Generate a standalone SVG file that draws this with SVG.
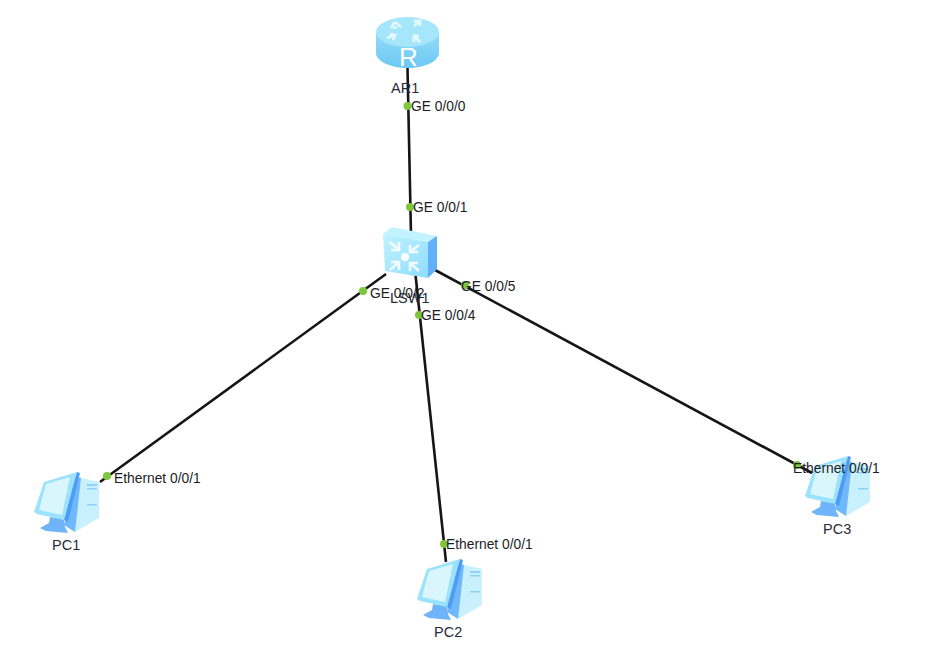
<svg xmlns="http://www.w3.org/2000/svg" width="936" height="653" viewBox="0 0 936 653">
<style>
text{font-family:"Liberation Sans",Arial,sans-serif;font-size:13.8px;fill:#1c1c24}
.nm{font-size:14.500px;fill:#2a2a3a}
.ln{stroke:#151515;stroke-width:2.6;fill:none}
.dot{fill:#7cc63c}
.ic{fill:none;stroke:#f2fcff;stroke-width:2.6}
</style>
<defs>
<linearGradient id="rt" x1="0" y1="0" x2="0" y2="1"><stop offset="0" stop-color="#93dcf8"/><stop offset="1" stop-color="#6cc8f4"/></linearGradient>
<linearGradient id="sw" x1="0" y1="0" x2="1" y2="1"><stop offset="0" stop-color="#c0f3ff"/><stop offset="1" stop-color="#8fdcfe"/></linearGradient>
<g id="pc">
<polygon points="44,5 65,10 65,46 41,60 36,30" fill="#c8f1fd"/>
<polygon points="41,5 47,6 41,60 30,53 33,40" fill="#6fb8fb"/>
<rect x="53" y="12" width="10" height="2" fill="#8fd0f5"/>
<rect x="53" y="16" width="10" height="1.500" fill="#8fd0f5"/>
<rect x="53" y="32" width="10" height="1.500" fill="#8fd0f5"/>
<polygon points="16,45 30,47 31,55 34,61 12,59 6,56 15,51" fill="#6fb4f8"/>
<polygon points="0,40 10,10 43,0 30,48 3,42" fill="#9be3fd"/>
<polygon points="43,0 46,1 34,50 30,48" fill="#4f9cf5"/>
<polygon points="12,12 36,5 28,43 5,38" fill="#daf6fd"/>
</g>
</defs>
<rect width="936" height="653" fill="#fff"/>
<g id="connectors">
<line class="ln" x1="407.500" y1="68" x2="411" y2="235"/>
<line class="ln" x1="386" y1="274" x2="100" y2="482"/>
<line class="ln" x1="415" y1="270" x2="446" y2="562"/>
<line class="ln" x1="435" y1="270" x2="812" y2="473"/>
</g>
<g id="AR1">
<path d="M376 33V53C376 61 390 68 407.500 68S439 61 439 53V33Z" fill="url(#rt)"/>
<ellipse cx="407.500" cy="32" rx="31.500" ry="15" fill="#a6e6fb"/>
<g class="ic" style="stroke:#e2f8fe;stroke-width:2.800">
<path d="M395 22l6 5M397 28l-5-1 2-5"/>
<path d="M420 21l-6 5M414 21h6v5"/>
<path d="M387 38l8-3M393 40l2-5-5-1"/>
<path d="M420 42l-6-6M419 36h-5v6"/>
</g>
<text x="408.500" y="66" text-anchor="middle" style="font-size:26px;fill:#fff">R</text>
<text class="nm" x="391" y="93">AR1</text>
</g>
<g id="LSW1">
<polygon points="383,234 392,227 437,236 428,242" fill="#c2f3ff"/>
<polygon points="383,234 428,242 428,278 385,271" fill="url(#sw)"/>
<polygon points="428,242 437,236 437,269 428,278" fill="#62b0f8"/>
<circle cx="405" cy="257" r="4" fill="#fff"/>
<g class="ic">
<path d="M390 242l9 8M399 242v8h-8"/>
<path d="M419 245l-9 7M410 245v7h8"/>
<path d="M390 270l9-8M391 262h8v8"/>
<path d="M419 271l-9-8M410 271v-8h8"/>
</g>
<text class="nm" x="390" y="303">LSW1</text>
</g>
<g id="PC1"><use href="#pc" x="34" y="472"/><text class="nm" x="52" y="550">PC1</text></g>
<g id="PC2"><use href="#pc" x="417" y="559"/><text class="nm" x="434" y="637">PC2</text></g>
<g id="PC3"><use href="#pc" x="805" y="456"/><text class="nm" x="823" y="534">PC3</text></g>
<g id="ports">
<circle class="dot" cx="407.500" cy="106" r="4"/>
<circle class="dot" cx="410" cy="207" r="4"/>
<circle class="dot" cx="363" cy="291" r="4"/>
<circle class="dot" cx="419" cy="315" r="4"/>
<circle class="dot" cx="465" cy="285" r="4"/>
<circle class="dot" cx="107" cy="476" r="4"/>
<circle class="dot" cx="444" cy="544" r="4"/>
<circle class="dot" cx="797" cy="465" r="4"/>
<text x="411" y="111">GE 0/0/0</text>
<text x="413" y="212">GE 0/0/1</text>
<text x="370" y="298">GE 0/0/2</text>
<text x="421" y="320">GE 0/0/4</text>
<text x="461" y="291">GE 0/0/5</text>
<text x="114" y="483">Ethernet 0/0/1</text>
<text x="446" y="549">Ethernet 0/0/1</text>
<text x="793" y="473">Ethernet 0/0/1</text>
</g>
</svg>
